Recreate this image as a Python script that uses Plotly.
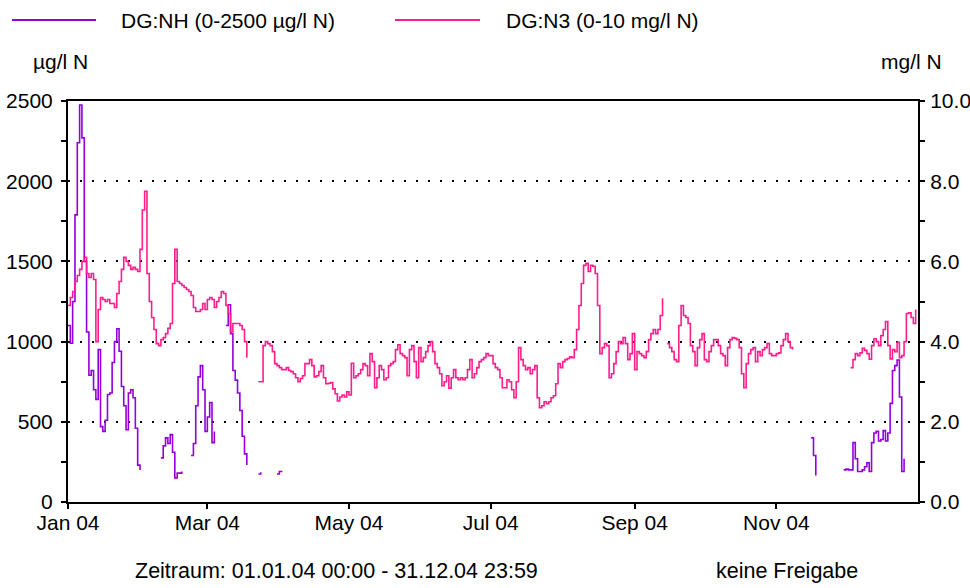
import pandas as pd
import plotly.graph_objects as go

# ---- data (daily values) ----
dates = pd.date_range("2004-01-01", periods=366, freq="D")

# x-axis tick positions / labels
tick_dates = ["2004-01-01", "2004-03-01", "2004-05-01", "2004-07-01", "2004-09-01", "2004-11-01"]
tick_labels = ["Jan 04", "Mar 04", "May 04", "Jul 04", "Sep 04", "Nov 04"]

# DG:NH in µg/l N (left axis)
nh_ugl = (
    [1100, 990, 1250, 1790, 2240, 2475, 2270, 1500, 1060, 790,
     820, 700, 640, 950, 470, 440, 510, 670, 680, 870,
     1000, 1080, 940, 720, 600, 450, 680, 700, 650, 460,
     230, 200]
    + [None] * 8
    + [275, 350, 400, 365, 420, 310, 150, 180, 180, 190]
    + [None] * 3
    + [290, 365, 600, 780, 850, 700, 440, 530, 620, 370, 440]
    + [None] * 4
    + [1100, 1230, 1050, 820, 760, 680, 570, 410, 300, 230]
    + [None] * 4
    + [175, 185]
    + [None] * 6
    + [175, 190, 195]
    + [None] * 227
    + [400, 290, 165]
    + [None] * 11
    + [200, 205, 200, 200, 370, 270, 190, 190, 200, 220,
       245, 190, 370, 430, 440, 380, 390, 445, 380, 430,
       615, 820, 850, 885, 655, 190, 270]
    + [None] * 5
)

# DG:N3 in mg/l N (right axis)
n3_mgl = (
    [4.9, 5.1, 5.25, 5.5, 5.65, 5.8, 6.0, 6.1, 5.7, 5.6,
     5.7, 5.55, 4.0, 4.8, 5.1, 5.05, 5.0, 5.05, 4.95, 4.95,
     4.85, 5.2, 5.5, 5.8, 6.1, 6.0, 5.9, 5.8, 5.85, 5.8,
     5.75, 6.3, 7.28, 7.75, 5.7, 5.0, 4.6, 4.3, 3.95, 3.9,
     4.05, 4.1, 4.2, 4.33, 4.45, 5.45, 6.3, 5.5, 5.45, 5.4,
     5.35, 5.3, 5.25, 5.15, 4.85, 4.75, 4.75, 4.8, 4.95, 4.8,
     5.05, 5.1, 5.05, 4.85, 5.0, 5.1, 5.25, 5.2, 4.9, 4.7,
     4.25, 4.45, 4.45, 4.45, 4.4, 4.3, 4.0, 3.6, None, None,
     None, None, 3.0, 3.0, 3.9, 4.0, 3.95, 3.9, 3.75, 3.45,
     3.4, 3.35, 3.3, 3.3, 3.35, 3.28, 3.25, 3.2, 3.1, 3.0,
     3.08, 3.15, 3.45, 3.45, 3.55, 3.4, 3.12, 3.15, 3.25, 3.4,
     3.1, 2.95, 2.96, 2.98, 2.82, 2.7, 2.52, 2.62, 2.67, 2.62,
     2.75, 2.67, 3.46, 3.1, 3.15, 3.2, 3.3, 3.45, 3.4, 3.15,
     3.7, 3.5, 2.85, 3.1, 3.4, 3.3, 3.05, 3.1, 3.4, 3.45,
     3.5, 3.8, 3.92, 3.7, 3.65, 3.6, 3.15, 3.8, 3.9, 3.5,
     3.1, 3.85, 3.5, 3.6, 3.75, 3.9, 4.0, 3.75, 3.45, 3.35,
     3.2, 2.9, 3.0, 3.15, 2.84, 3.1, 3.3, 3.1, 3.05, 3.1,
     3.05, 3.1, 3.3, 3.55, 3.1, 3.2, 3.35, 3.5, 3.55, 3.6,
     3.7, 3.65, 3.65, 3.45, 3.35, 3.3, 3.1, 2.85, 2.85, 3.05,
     3.0, 2.8, 2.6, 3.0, 3.85, 3.55, 3.4, 3.3, 3.35, 3.2,
     3.3, 3.4, 2.6, 2.35, 2.4, 2.5, 2.45, 2.5, 2.6, 2.65,
     2.95, 3.45, 3.35, 3.5, 3.55, 3.58, 3.62, 3.6, 3.8, 4.3,
     4.9, 5.45, 5.9, 5.95, 5.75, 5.9, 5.88, 5.7, 4.9, 3.7,
     3.85, 3.95, 3.9, 3.1, 3.2, 3.45, 3.75, 4.0, 3.95, 4.1,
     3.95, 3.55, 3.7, 4.2, 3.3, 3.75, 3.7, 3.65, 3.6, 3.75,
     4.05, 4.2, 4.3, 4.2, 4.3, 4.65, 5.08, None, 3.95, 3.85,
     3.75, 3.55, 3.5, 4.4, 4.9, 4.65, 4.6, 4.45, 3.9, 3.75,
     3.4, 3.85, 4.05, 4.2, 3.55, 3.5, 3.75, 3.9, 4.05, 4.05,
     3.9, 3.7, 3.65, 3.4, 3.85, 4.05, 4.1, 4.08, 4.05, 3.85,
     3.2, 2.85, 3.45, 3.7, 3.8, 3.85, 3.5, 3.75, 3.65, 3.8,
     3.85, 3.95, 3.7, 3.65, 3.65, 3.7, 3.72, 3.9, 4.05, 4.2,
     4.0, 3.85, 3.8]
    + [None] * 24
    + [3.35, 3.55, 3.7,
       3.65, 3.72, 3.83, 3.78, 3.7, 3.56, 3.9, 4.07, 4.0, 3.9,
       4.15, 4.3, 4.5, 3.9, 3.57, 3.8, 3.75, 3.98, 3.6, 3.65,
       4.0, 4.7, 4.72, 4.6, 4.45, 4.8]
)

series_names = ["DG:NH (0-2500 µg/l N)", "DG:N3 (0-10 mg/l N)"]
left_unit = "µg/l N"
right_unit = "mg/l N"
footer_left = "Zeitraum: 01.01.04 00:00 - 31.12.04 23:59"
footer_right = "keine Freigabe"

PURPLE = "#9400D8"
PINK = "#FF1E8C"
FONT = dict(family="Liberation Sans, Arial, sans-serif", size=21, color="black")

fig = go.Figure()
fig.add_trace(go.Scatter(x=dates, y=nh_ugl, mode="lines", line_shape="hv",
                         line=dict(color=PURPLE, width=1.6), name=series_names[0],
                         yaxis="y", showlegend=False))
fig.add_trace(go.Scatter(x=dates, y=n3_mgl, mode="lines", line_shape="hv",
                         line=dict(color=PINK, width=1.6), name=series_names[1],
                         yaxis="y2", showlegend=False))

xrange = ["2004-01-01 00:00", "2005-01-01 00:00"]
tick_common = dict(ticklen=5, tickwidth=1.5, tickcolor="black", automargin=False)
fig.update_layout(
    width=970, height=588,
    margin=dict(l=68, r=52, t=101, b=86, autoexpand=False),
    paper_bgcolor="white", plot_bgcolor="white",
    font=FONT,
    xaxis=dict(type="date", range=xrange, tickmode="array", tickvals=tick_dates,
               ticktext=tick_labels, ticks="outside", **tick_common,
               showline=True, linecolor="black", linewidth=2,
               mirror=True, showgrid=False, zeroline=False, ticklabelstandoff=-4),
    xaxis2=dict(type="date", range=xrange, tickmode="array", tickvals=tick_dates,
                overlaying="x", anchor="y", ticks="inside", **tick_common,
                showticklabels=False, showline=False,
                showgrid=False, zeroline=False),
    yaxis=dict(range=[0, 2500], dtick=500, ticks="outside", **tick_common,
               showline=True, linecolor="black", linewidth=2,
               showgrid=True, gridcolor="black", griddash="2px,10px", gridwidth=1.5,
               zeroline=False, ticklabelstandoff=4,
               minor=dict(dtick=250, ticks="outside", ticklen=5, tickwidth=1.5,
                          tickcolor="black", showgrid=False)),
    yaxis2=dict(range=[0, 10], dtick=2, tickformat=".1f", overlaying="y", side="right",
                ticks="outside", **tick_common,
                showline=True, linecolor="black", linewidth=2, showgrid=False,
                zeroline=False, ticklabelstandoff=1,
                minor=dict(dtick=1, ticks="outside", ticklen=5, tickwidth=1.5,
                           tickcolor="black", showgrid=False)),
    yaxis3=dict(range=[0, 2500], dtick=500, overlaying="y", side="left", anchor="x",
                ticks="inside", **tick_common,
                showticklabels=False, showline=False, showgrid=False, zeroline=False,
                minor=dict(dtick=250, ticks="inside", ticklen=5, tickwidth=1.5,
                           tickcolor="black", showgrid=False)),
    yaxis4=dict(range=[0, 10], dtick=2, overlaying="y", side="right", anchor="x",
                ticks="inside", **tick_common,
                showticklabels=False, showline=False, showgrid=False, zeroline=False,
                minor=dict(dtick=1, ticks="inside", ticklen=5, tickwidth=1.5,
                           tickcolor="black", showgrid=False)),
)

# manual legend (line samples + labels) above the plot
legend_y = (502 - 20) / 401
fig.add_shape(type="line", xref="paper", yref="paper", x0=(12 - 68) / 850, x1=(96 - 68) / 850,
              y0=legend_y, y1=legend_y, line=dict(color=PURPLE, width=2))
fig.add_shape(type="line", xref="paper", yref="paper", x0=(395 - 68) / 850, x1=(480 - 68) / 850,
              y0=legend_y, y1=legend_y, line=dict(color=PINK, width=2))
fig.add_annotation(text=series_names[0], xref="paper", yref="paper", x=(119 - 68) / 850,
                   y=legend_y, xanchor="left", yanchor="middle", showarrow=False)
fig.add_annotation(text=series_names[1], xref="paper", yref="paper", x=(504 - 68) / 850,
                   y=legend_y, xanchor="left", yanchor="middle", showarrow=False)

# unit labels
unit_y = (502 - 62) / 401
fig.add_annotation(text=left_unit, xref="paper", yref="paper", x=(31 - 68) / 850, y=unit_y,
                   xanchor="left", yanchor="middle", showarrow=False)
fig.add_annotation(text=right_unit, xref="paper", yref="paper", x=(944 - 68) / 850, y=unit_y,
                   xanchor="right", yanchor="middle", showarrow=False)

# footer
foot_y = (502 - 571) / 401
fig.add_annotation(text=footer_left, xref="paper", yref="paper", x=(336 - 68) / 850, y=foot_y,
                   xanchor="center", yanchor="middle", showarrow=False, font=dict(size=21.5))
fig.add_annotation(text=footer_right, xref="paper", yref="paper", x=(787 - 68) / 850, y=foot_y,
                   xanchor="center", yanchor="middle", showarrow=False, font=dict(size=21.5))

fig.write_html("out.html", config={"displayModeBar": False},
               post_script="document.body.style.margin='0';")
